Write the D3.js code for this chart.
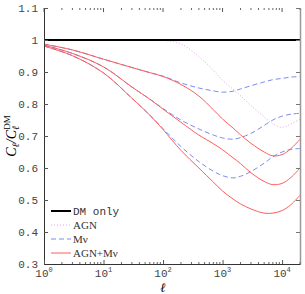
<!DOCTYPE html>
<html>
<head>
<meta charset="utf-8">
<script src="https://cdn.jsdelivr.net/npm/d3@7"></script>
<style>
  html, body { margin: 0; padding: 0; background: #fff; }
  svg { display: block; }
</style>
</head>
<body>
<div id="chart"></div>
<script>
// multipole grid shared by all curves
const ell = [1, 3, 10, 30, 60, 100, 200, 400, 700, 1000, 1500, 2000, 3000, 5000, 7000, 10000, 14000, 20000];

// C_l / C_l^DM
const ratioDM    = [1, 1, 1, 1, 1, 1, 1, 1, 1, 1, 1, 1, 1, 1, 1, 1, 1, 1];
const ratioAGN   = [1, 1, 1, 1, 1, 0.999, 0.988, 0.948, 0.905, 0.874, 0.846, 0.826, 0.795, 0.760, 0.738, 0.727, 0.738, 0.752];
const ratioMnu1  = [0.987, 0.969, 0.940, 0.914, 0.898, 0.887, 0.866, 0.850, 0.841, 0.837, 0.840, 0.847, 0.857, 0.869, 0.876, 0.880, 0.884, 0.886];
const ratioMnu2  = [0.984, 0.958, 0.916, 0.853, 0.815, 0.786, 0.750, 0.722, 0.703, 0.694, 0.690, 0.695, 0.708, 0.733, 0.750, 0.762, 0.768, 0.771];
const ratioMnu3  = [0.981, 0.951, 0.897, 0.818, 0.765, 0.723, 0.667, 0.620, 0.590, 0.576, 0.569, 0.574, 0.589, 0.615, 0.635, 0.650, 0.658, 0.661];
const ratioBoth1 = [0.987, 0.969, 0.940, 0.914, 0.898, 0.886, 0.861, 0.825, 0.782, 0.753, 0.725, 0.704, 0.677, 0.650, 0.638, 0.642, 0.660, 0.690];
const ratioBoth2 = [0.984, 0.958, 0.916, 0.853, 0.815, 0.784, 0.743, 0.703, 0.676, 0.657, 0.632, 0.614, 0.585, 0.558, 0.548, 0.552, 0.570, 0.600];
const ratioBoth3 = [0.981, 0.951, 0.897, 0.818, 0.765, 0.720, 0.655, 0.600, 0.556, 0.528, 0.503, 0.488, 0.472, 0.459, 0.459, 0.467, 0.485, 0.515];

const yTicks = [0.3, 0.4, 0.5, 0.6, 0.7, 0.8, 0.9, 1, 1.1];
const xTicks = [1, 10, 100, 1000, 10000];
const legendNames = ['DM only', 'AGN', 'M\u03bd', 'AGN+M\u03bd'];

const W = 305, H = 294;
const m = { top: 8, right: 5, bottom: 30, left: 44 };

const styles = {
  dm:   { stroke: '#000', width: 2, dash: null },
  agn:  { stroke: '#e9a0f5', width: 1, dash: '1,2' },
  mnu:  { stroke: '#7c8cf2', width: 1, dash: '5,3' },
  both: { stroke: '#ff5c5c', width: 1, dash: null }
};

const svg = d3.select('#chart').append('svg')
  .attr('width', W).attr('height', H);

const x = d3.scaleLog().domain([1, 20000]).range([m.left, W - m.right]);
const y = d3.scaleLinear().domain([0.3, 1.1]).range([H - m.bottom, m.top]);

const line = d3.line()
  .x((d, i) => x(ell[i]))
  .y(d => y(d))
  .curve(d3.curveCatmullRom.alpha(0.5));

// curves: dotted AGN, dashed Mv, solid AGN+Mv on top, then DM only
const series = [
  { v: ratioAGN, s: styles.agn },
  { v: ratioMnu1, s: styles.mnu },
  { v: ratioMnu2, s: styles.mnu },
  { v: ratioMnu3, s: styles.mnu },
  { v: ratioBoth1, s: styles.both },
  { v: ratioBoth2, s: styles.both },
  { v: ratioBoth3, s: styles.both },
  { v: ratioDM, s: styles.dm }
];

svg.append('g').selectAll('path').data(series).enter()
  .append('path')
  .attr('d', d => line(d.v))
  .attr('fill', 'none')
  .attr('stroke', d => d.s.stroke)
  .attr('stroke-width', d => d.s.width)
  .attr('stroke-dasharray', d => d.s.dash);

// axes
const tickFont = '"Liberation Mono", "DejaVu Sans Mono", monospace';

const yAxis = d3.axisLeft(y).tickValues(yTicks)
  .tickFormat(d3.format('~g')).tickSizeInner(-4).tickSizeOuter(0).tickPadding(6);
const gy = svg.append('g').attr('transform', `translate(${m.left},0)`).call(yAxis);
gy.select('.domain').attr('stroke', '#333');
gy.selectAll('.tick line').attr('stroke', '#555');
gy.selectAll('text').attr('font-family', tickFont).attr('font-size', 11).attr('fill', '#444');

// right side ticks and light border
const gyr = svg.append('g').attr('transform', `translate(${W - m.right},0)`)
  .call(d3.axisRight(y).tickValues(yTicks).tickFormat('').tickSizeInner(-4).tickSizeOuter(0));
gyr.select('.domain').attr('stroke', '#999').attr('stroke-width', 1.5);
gyr.selectAll('.tick line').attr('stroke', '#777');

// log minor ticks
const minor = [];
for (let e = 0; e <= 4; e++) {
  for (let k = 2; k <= 9; k++) {
    const v = k * Math.pow(10, e);
    if (v <= 20000) minor.push(v);
  }
}

const xAxis = d3.axisBottom(x).tickValues(xTicks).tickFormat('')
  .tickSizeInner(-4).tickSizeOuter(0);
const gx = svg.append('g').attr('transform', `translate(0,${H - m.bottom})`).call(xAxis);
gx.select('.domain').attr('stroke', '#333');
gx.selectAll('.tick line').attr('stroke', '#555');
gx.selectAll('.minor').data(minor).enter().append('line')
  .attr('x1', d => x(d)).attr('x2', d => x(d))
  .attr('y1', 0).attr('y2', -2).attr('stroke', '#666');

const gxt = svg.append('g').attr('transform', `translate(0,${m.top})`);
gxt.selectAll('.maj').data(xTicks).enter().append('line')
  .attr('x1', d => x(d)).attr('x2', d => x(d))
  .attr('y1', 0).attr('y2', 4).attr('stroke', '#555');
gxt.selectAll('.min').data(minor).enter().append('line')
  .attr('x1', d => x(d)).attr('x2', d => x(d))
  .attr('y1', 0).attr('y2', 2).attr('stroke', '#666');

// x tick labels 10^n
const xl = svg.append('g').selectAll('text').data(xTicks).enter().append('text')
  .attr('x', d => x(d))
  .attr('y', H - m.bottom + 13)
  .attr('text-anchor', 'middle')
  .attr('font-family', tickFont).attr('font-size', 11).attr('fill', '#444');
xl.append('tspan').text('10');
xl.append('tspan').attr('dy', -5).attr('font-size', 7)
  .text(d => Math.round(Math.log10(d)));

// axis titles
const mathFont = '"Liberation Serif", "DejaVu Serif", serif';
svg.append('text')
  .attr('x', x(100))
  .attr('y', H - 2)
  .attr('text-anchor', 'middle')
  .attr('font-family', mathFont).attr('font-style', 'italic').attr('font-size', 13)
  .text('\u2113');

const yl = svg.append('text')
  .attr('transform', `translate(16,${(m.top + H - m.bottom) / 2}) rotate(-90)`)
  .attr('text-anchor', 'middle')
  .attr('font-family', mathFont).attr('font-style', 'italic').attr('font-size', 14);
yl.append('tspan').text('C');
yl.append('tspan').attr('dy', 3).attr('font-size', 10).text('\u2113');
yl.append('tspan').attr('dy', -3).text('/C');
yl.append('tspan').attr('dy', 3).attr('font-size', 10).text('\u2113');
yl.append('tspan').attr('dx', -4).attr('dy', -9).attr('font-size', 9)
  .attr('font-style', 'normal').text('DM');

// legend
const legendStyles = [styles.dm, styles.agn, styles.mnu, styles.both];
const lg = svg.append('g').attr('transform', 'translate(51,211)');
const rows = lg.selectAll('g').data(legendNames).enter().append('g')
  .attr('transform', (d, i) => `translate(0,${i * 14})`);
rows.append('line')
  .attr('x1', 0).attr('x2', 20).attr('y1', 0).attr('y2', 0)
  .attr('stroke', (d, i) => legendStyles[i].stroke)
  .attr('stroke-width', (d, i) => legendStyles[i].width)
  .attr('stroke-dasharray', (d, i) => legendStyles[i].dash);
rows.append('text')
  .attr('x', 22).attr('y', 4)
  .attr('font-family', (d, i) => i === 0 ? tickFont : mathFont)
  .attr('font-size', 11).attr('fill', '#333')
  .text(d => d);
</script>
</body>
</html>
